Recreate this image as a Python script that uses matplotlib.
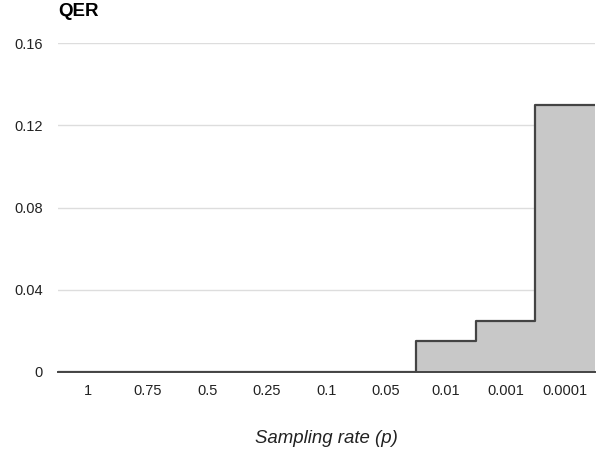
import matplotlib
matplotlib.use("Agg")
import matplotlib.pyplot as plt
import numpy as np

plt.rcParams['font.family'] = ['Liberation Sans', 'DejaVu Sans']

# dados
categorias = ["1", "0.75", "0.5", "0.25", "0.1", "0.05", "0.01", "0.001", "0.0001"]
qer = [0, 0, 0, 0, 0, 0, 0.015, 0.025, 0.13]
yticks = [0, 0.04, 0.08, 0.12, 0.16]

fig = plt.figure(figsize=(6, 4.49), dpi=100)
ax = fig.add_axes([0.0967, 0.1715, 0.895, 0.7325])

n = len(categorias)
bordas = np.arange(n + 1)
valores = qer + [qer[-1]]

# area em degraus
ax.fill_between(bordas, valores, step="post", color="#c8c8c8", linewidth=0)
ax.step(bordas, valores, where="post", color="#444444", linewidth=1.6)

ax.set_xlim(0, n)
ax.set_ylim(0, 0.16)
ax.set_xticks(np.arange(n) + 0.5)
ax.set_xticklabels(categorias)
ax.set_yticks(yticks)
ax.set_yticklabels(["0", "0.04", "0.08", "0.12", "0.16"])
ax.tick_params(length=0, labelsize=10.5, colors="#222222", pad=8.5)
ax.tick_params(axis="y", pad=11)

ax.grid(axis="y", color="#dddddd", linewidth=1)
ax.set_axisbelow(True)
for s in ["top", "right", "left"]:
    ax.spines[s].set_visible(False)
ax.spines["bottom"].set_color("#444444")
ax.spines["bottom"].set_linewidth(1.4)

ax.set_xlabel("Sampling rate (p)", style="italic", fontsize=13.4, color="#222222", labelpad=23)
fig.text(0.0967, 0.974, "QER", fontsize=13.5, fontweight="bold", va="center", ha="left")

fig.savefig("out.png", dpi=100)
